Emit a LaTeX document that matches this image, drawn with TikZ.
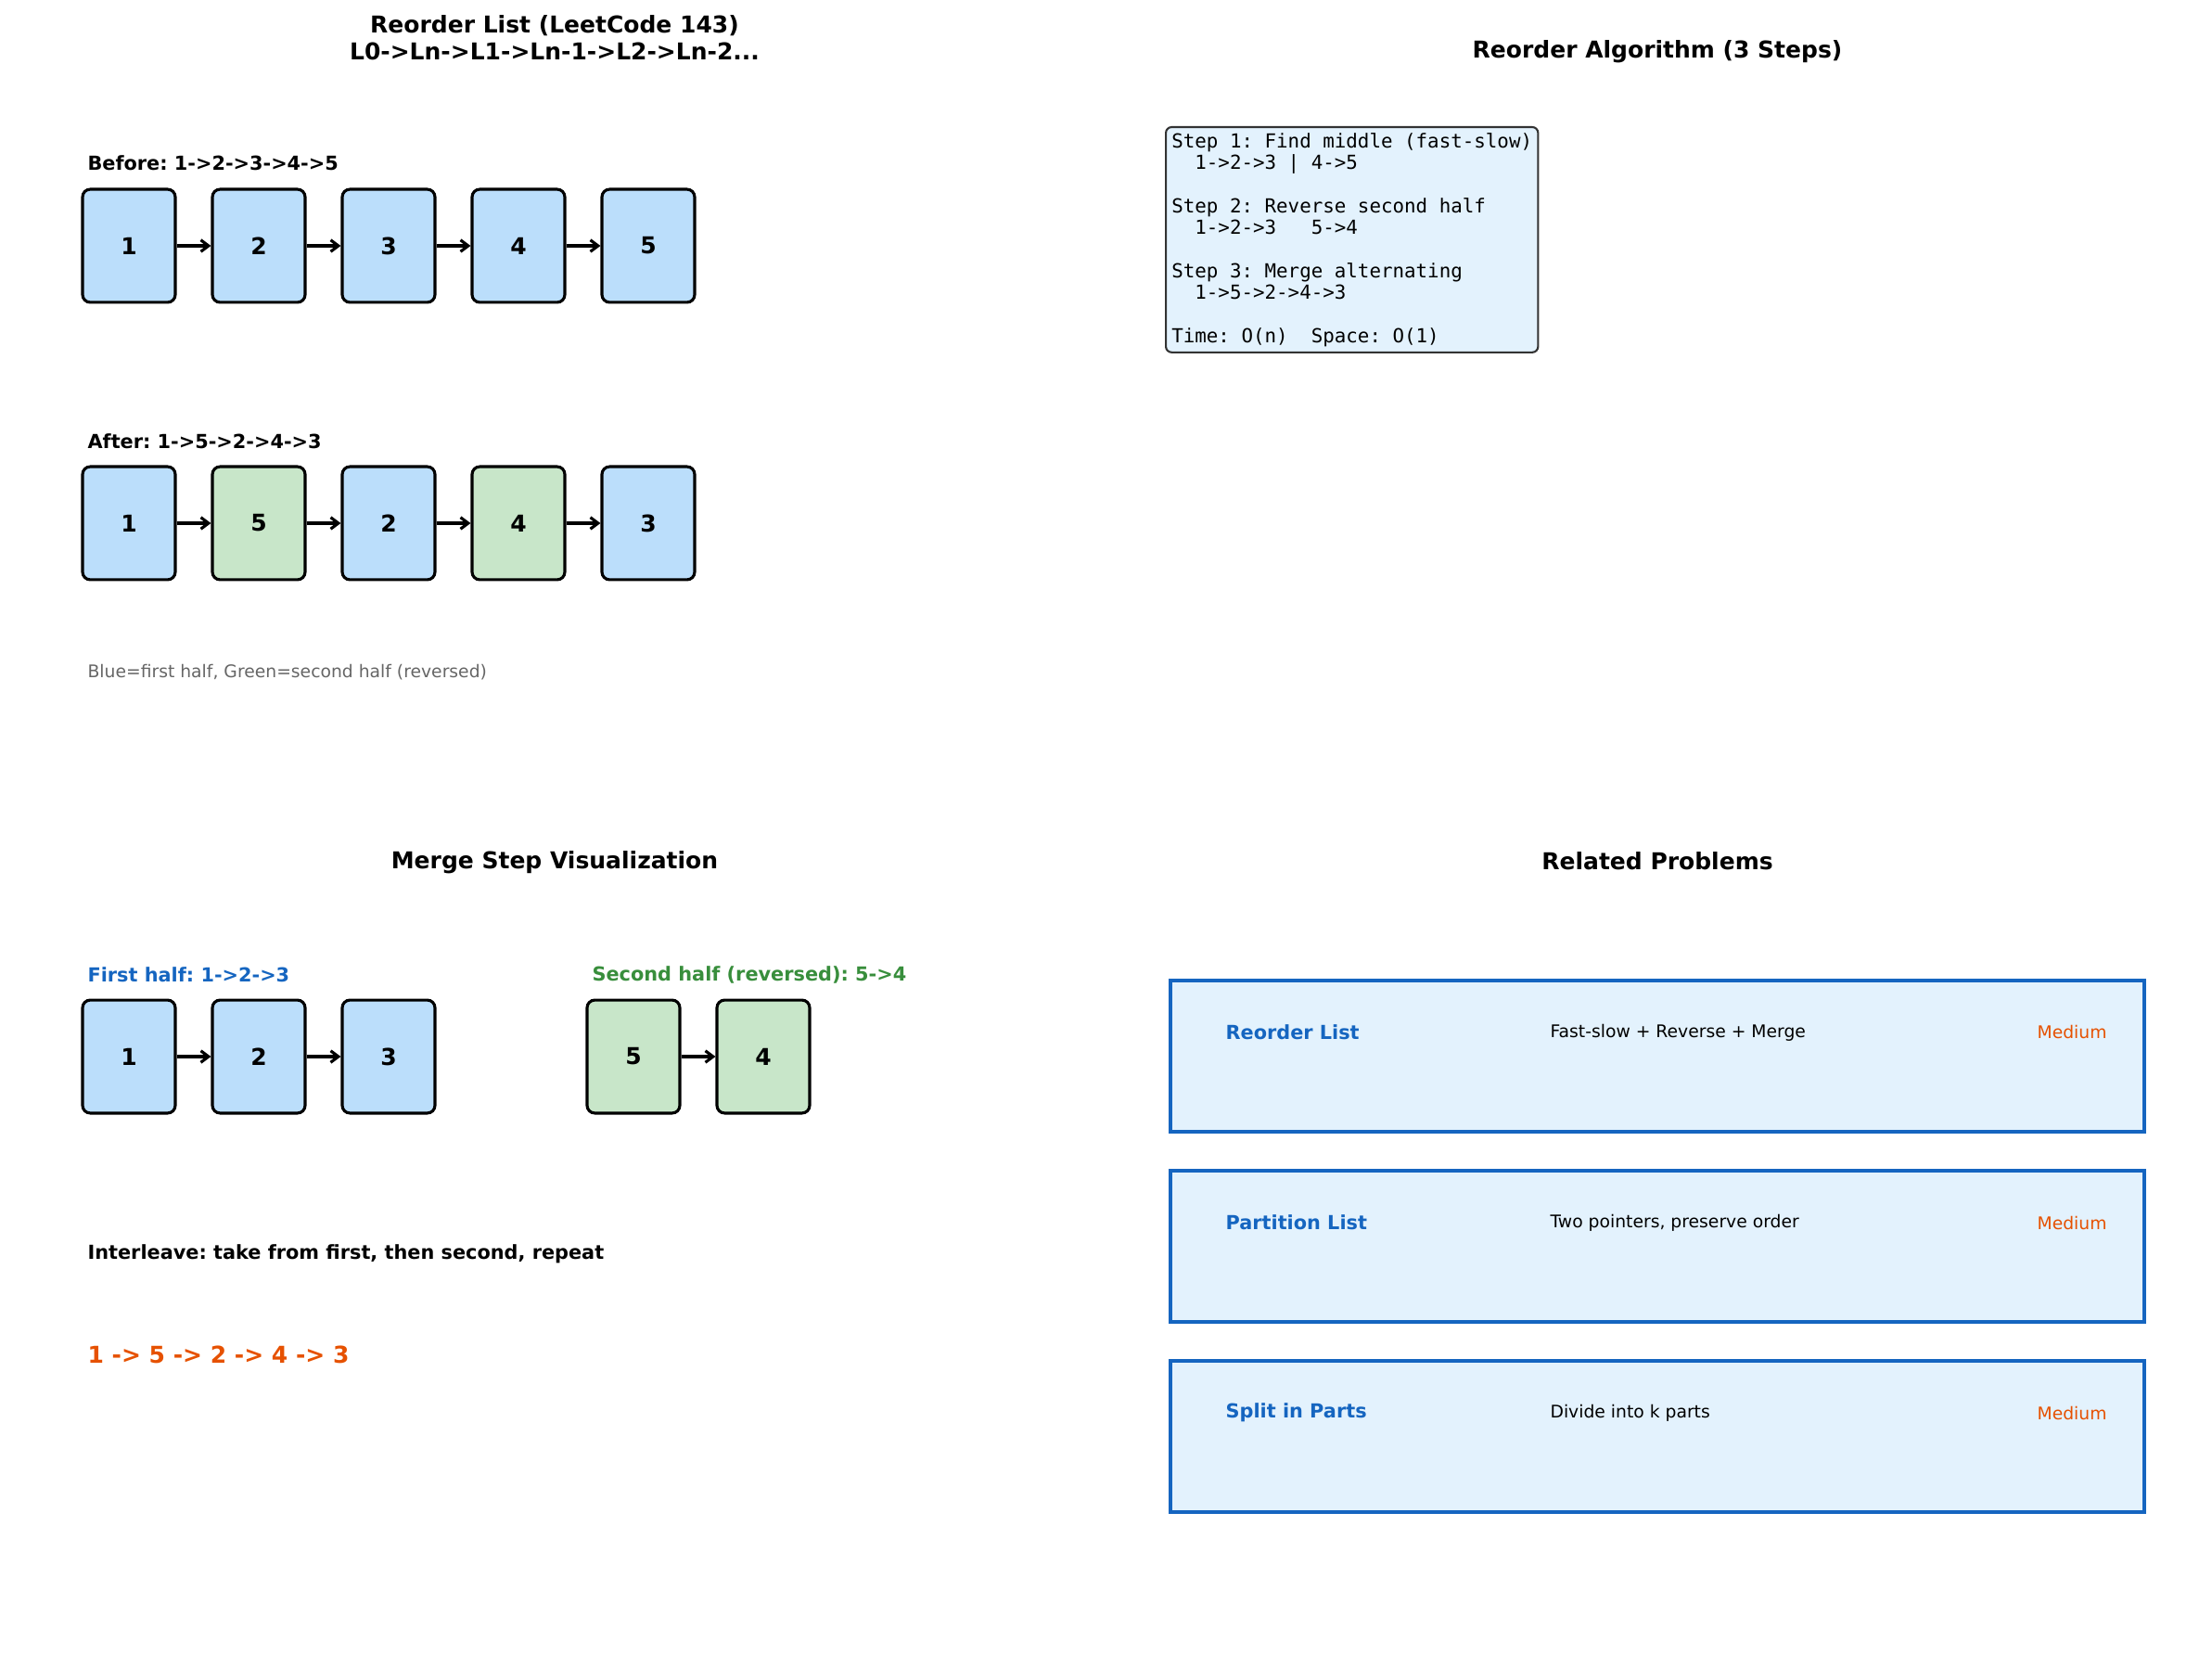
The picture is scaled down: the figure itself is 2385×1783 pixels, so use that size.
\documentclass[tikz,border=0pt]{standalone}
\usepackage{fontspec}
\setmainfont{DejaVu Sans}
\setsansfont{DejaVu Sans}
\setmonofont{DejaVu Sans Mono}
\usetikzlibrary{arrows.meta, positioning}
\frenchspacing
\definecolor{cblue}{HTML}{BBDEFB}
\definecolor{cgreen}{HTML}{C8E6C9}
\definecolor{cpale}{HTML}{E3F2FD}
\definecolor{cdeep}{HTML}{1565C0}
\definecolor{cforest}{HTML}{388E3C}
\definecolor{corange}{HTML}{E65100}
\definecolor{cgrey}{HTML}{666666}
\definecolor{cedge}{HTML}{333333}
\tikzset{
  every picture/.style={line width=1.5pt},
  cell/.style={draw=black, fill=#1, rounded corners=4pt, minimum width=48pt, minimum height=58.5pt, inner sep=0pt, font=\fontsize{12}{14}\selectfont\bfseries},
  cell/.default=cblue,
  link/.style={-{Straight Barb[length=4pt, width=6pt]}, line width=1.5pt},
  title/.style={font=\fontsize{12}{13.9}\selectfont\bfseries, align=center, inner sep=0pt},
  tag/.style={font=\fontsize{10}{12}\selectfont\bfseries, anchor=west, inner sep=0pt},
  note/.style={font=\fontsize{9}{11}\selectfont, text=cgrey, anchor=west, inner sep=0pt},
  algo/.style={draw=cedge, fill=cpale, line width=1pt, rounded corners=3pt, align=left, inner sep=3pt, font=\fontsize{10}{11.2}\selectfont\ttfamily},
  probbox/.style={draw=cdeep, fill=cpale, line width=1.5pt, minimum width=504pt, minimum height=78.2pt, inner sep=0pt},
}

\begin{document}
\begin{tikzpicture}[x=0.48pt, y=-0.48pt]
  \useasboundingbox (0,0) rectangle (2385,1783);
  % panel titles
  \node[title] (head1) at (598,41) {Reorder List (LeetCode 143)\\L0->Ln->L1->Ln-1->L2->Ln-2...};
  \node[title] (head2) at (1787,56) {Reorder Algorithm (3 Steps)};
  \node[title] (head3) at (598,930) {Merge Step Visualization};
  \node[title] (head4) at (1787,928) {Related Problems};

  % before / after lists
  \node[tag] (before) at (93,176) {Before: 1->2->3->4->5};
  \foreach \i in {1,...,5} {
    \node[cell] (b\i) at ({139+140*(\i-1)},265) {\i};
  }
  \node[tag] (after) at (93,476) {After: 1->5->2->4->3};
  \foreach \i/\v/\c in {1/1/cblue, 2/5/cgreen, 3/2/cblue, 4/4/cgreen, 5/3/cblue} {
    \node[cell=\c] (a\i) at ({139+140*(\i-1)},564) {\v};
  }
  \foreach \i [evaluate=\i as \j using int(\i+1)] in {1,2,3,4} { \draw[link] (b\i) -- (b\j); \draw[link] (a\i) -- (a\j); }
  \node[note] (legend) at (93,725) {Blue=first half, Green=second half (reversed)};

  % the three steps
  \node[algo, anchor=north west] (steps) at (1256,136) {Step 1: Find middle (fast-slow)\\
    ~~1->2->3~|~4->5\\
    ~\\
    Step 2: Reverse second half\\
    ~~1->2->3~~~5->4\\
    ~\\
    Step 3: Merge alternating\\
    ~~1->5->2->4->3\\
    ~\\
    Time: O(n)~~Space: O(1)};

  % merge step
  \node[tag, text=cdeep] (firsthalf) at (93,1051) {First half: 1->2->3};
  \node[tag, text=cforest] (secondhalf) at (637,1051) {Second half (reversed): 5->4};
  \foreach \i in {1,2,3} {
    \node[cell] (f\i) at ({139+140*(\i-1)},1139) {\i};
  }
  \foreach \i/\v in {1/5, 2/4} {
    \node[cell=cgreen] (s\i) at ({683+140*(\i-1)},1139) {\v};
  }
  \draw[link] (f1) -- (f2);
  \draw[link] (f2) -- (f3);
  \draw[link] (s1) -- (s2);
  \node[tag] (interleave) at (93,1352) {Interleave: take from first, then second, repeat};
  \node[tag, font=\fontsize{12}{14}\selectfont\bfseries, text=corange] (result) at (93,1460) {1 -> 5 -> 2 -> 4 -> 3};

  % related problems
  \foreach \i/\name/\how in {1/Reorder List/Fast-slow + Reverse + Merge, 2/Partition List/{Two pointers, preserve order}, 3/Split in Parts/Divide into k parts} {
    \node[probbox] (r\i) at ({1787},{1138.5+205*(\i-1)}) {};
    \node[tag, text=cdeep] (rn\i) at ({1320},{1113+205*(\i-1)}) {\name};
    \node[note, text=black] (rd\i) at ({1670},{1113+205*(\i-1)}) {\how};
    \node[note, text=corange] (rl\i) at ({2195},{1113+205*(\i-1)}) {Medium};
  }
\end{tikzpicture}
\end{document}
